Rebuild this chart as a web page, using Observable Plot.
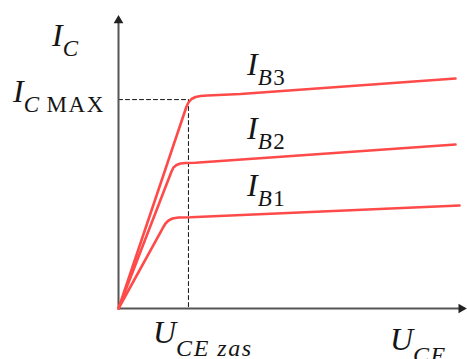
<!DOCTYPE html>
<html>
<head>
<meta charset="utf-8">
<script src="https://cdn.jsdelivr.net/npm/d3@7"></script>
<script src="https://cdn.jsdelivr.net/npm/@observablehq/plot@0.6"></script>
<style>
  html, body { margin: 0; padding: 0; background: #fff; }
</style>
</head>
<body>
<div id="chart"></div>
<script>
// Output characteristics (U_CE and I_C in arbitrary units)
const ib1U = [0, 1.264, 1.351, 1.437, 1.552, 1.724, 2.069, 9.799];
const ib1I = [0, 2.730, 2.901, 3.003, 3.072, 3.106, 3.113, 3.515];
const ib2U = [0, 1.523, 1.580, 1.667, 1.782, 1.925, 2.213, 9.684];
const ib2I = [0, 4.676, 4.812, 4.898, 4.949, 4.966, 4.973, 5.597];
const ib3U = [0, 1.954, 2.011, 2.098, 2.213, 2.356, 2.557, 3.506, 9.684];
const ib3I = [0, 6.894, 7.031, 7.150, 7.218, 7.253, 7.270, 7.320, 7.850];

const icMax = 7.13;   // I_C MAX level
const uceSat = 2.01;  // U_CE zas
const axisMax = 10;

// Labels: main letter, italic subscript, upright subscript suffix
const curveLabels = [
  {main: "I", sub: "C", up: "", u: -1.897, i: 8.942},
  {main: "I", sub: "C", up: "\u2009MAX", u: -3.017, i: 7.031},
  {main: "I", sub: "B", up: "3", u: 3.707, i: 7.952},
  {main: "I", sub: "B", up: "2", u: 3.707, i: 5.768},
  {main: "I", sub: "B", up: "1", u: 3.707, i: 3.823}
];
const axisLabels = [
  {main: "U", sub: "CE zas", up: "", u: 1.006, i: -1.195},
  {main: "U", sub: "CE", up: "", u: 7.816, i: -1.433}
];

const toRows = (us, is) => us.map((u, k) => ({u, i: is[k]}));
const curves = [toRows(ib1U, ib1I), toRows(ib2U, ib2I), toRows(ib3U, ib3I)];

const red = "#ff4a4a";
const axisColor = "#555";

const plot = Plot.plot({
  width: 467,
  height: 359,
  marginLeft: 118,
  marginRight: 1,
  marginTop: 15,
  marginBottom: 51,
  x: {domain: [0, axisMax], axis: null},
  y: {domain: [0, axisMax], axis: null},
  style: {background: "#fff", fontFamily: "'Liberation Serif', serif", overflow: "visible"},
  marks: [
    // dashed guides
    Plot.line([{u: 0, i: icMax}, {u: uceSat, i: icMax}], {x: "u", y: "i", stroke: "#111", strokeWidth: 1, strokeDasharray: "4,3"}),
    Plot.line([{u: uceSat, i: icMax}, {u: uceSat, i: 0}], {x: "u", y: "i", stroke: "#111", strokeWidth: 1, strokeDasharray: "4,3"}),
    // axes
    Plot.line([{u: 0, i: 0}, {u: 0, i: axisMax - 0.1}], {x: "u", y: "i", stroke: axisColor, strokeWidth: 2}),
    Plot.line([{u: 0, i: 0}, {u: axisMax - 0.1, i: 0}], {x: "u", y: "i", stroke: axisColor, strokeWidth: 2}),
    Plot.dot([{u: 0, i: axisMax - 0.17}], {x: "u", y: "i", symbol: "triangle", r: 3.6, fill: "#222", stroke: "none"}),
    Plot.dot([{u: axisMax - 0.15, i: 0}], {x: "u", y: "i", symbol: "triangle", r: 3.6, fill: "#222", stroke: "none", rotate: 90}),
    // curves
    ...curves.map(c => Plot.line(c, {x: "u", y: "i", stroke: red, strokeWidth: 2.6, curve: "linear", strokeLinejoin: "round"})),
    // labels
    Plot.text(curveLabels, {x: "u", y: "i", text: "main", textAnchor: "start", fontSize: 32, fontStyle: "italic", fill: "#151515"}),
    Plot.text(axisLabels, {x: "u", y: "i", text: "main", textAnchor: "start", fontSize: 32, fontStyle: "italic", fill: "#151515"})
  ]
});

// Turn each label into a main letter plus subscript tspans, placed at its baseline
const sx = plot.scale("x"), sy = plot.scale("y");
const svg = d3.select(plot);
const groups = svg.selectAll("g[aria-label='text']").nodes();
const specs = [{data: curveLabels, drop: 10, size: 23}, {data: axisLabels, drop: 13, size: 24}];
groups.forEach((g, gi) => {
  const spec = specs[gi];
  d3.select(g).attr("transform", null);
  d3.select(g).selectAll("text").each(function(_, k) {
    const d = spec.data[k];
    const t = d3.select(this);
    t.attr("dy", null).attr("x", null).attr("y", null)
     .attr("transform", `translate(${sx.apply(d.u)},${sy.apply(d.i)})`)
     .style("white-space", "pre");
    t.text(d.main);
    t.append("tspan").attr("dy", spec.drop).attr("font-size", spec.size).attr("font-style", "italic")
     .attr("letter-spacing", 1.5).text(d.sub);
    if (d.up) t.append("tspan").attr("font-size", spec.size).attr("font-style", "normal")
     .attr("letter-spacing", 1.5).text(d.up);
  });
});

document.getElementById("chart").appendChild(plot);
</script>
</body>
</html>
